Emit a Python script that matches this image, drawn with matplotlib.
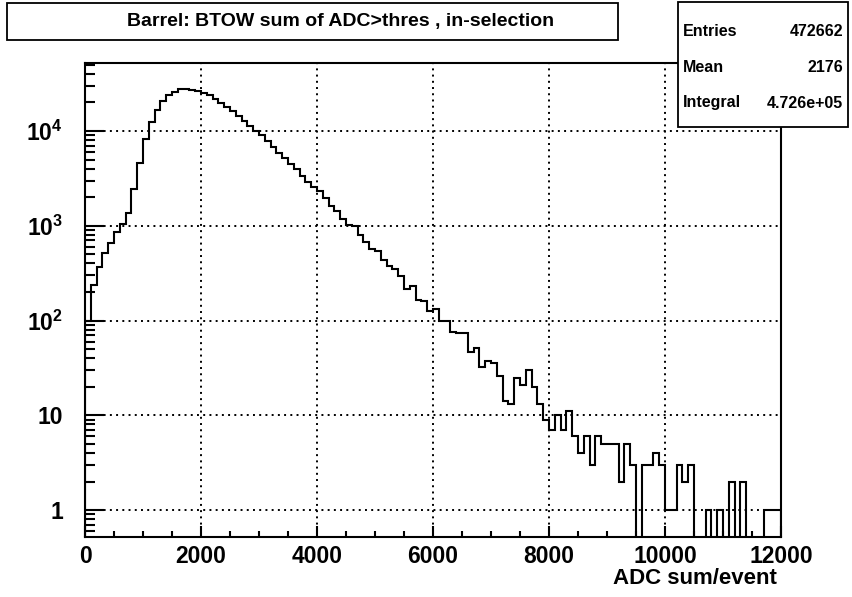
import numpy as np
import matplotlib
matplotlib.use("Agg")
import matplotlib.pyplot as plt
from matplotlib.patches import Rectangle
from matplotlib.ticker import FixedLocator, LogLocator, NullFormatter, MultipleLocator

plt.rcParams['font.family'] = ['Liberation Sans', 'DejaVu Sans']
plt.rcParams['font.weight'] = 'bold'
plt.rcParams['mathtext.fontset'] = 'custom'
plt.rcParams['mathtext.rm'] = 'Liberation Sans:bold'
plt.rcParams['mathtext.bf'] = 'Liberation Sans:bold'
plt.rcParams['mathtext.it'] = 'Liberation Sans:bold'

# ---- data ----
bin_edges = np.arange(0, 12001, 100)
counts = [
    100, 236, 363, 519, 661, 864, 1050, 1360, 2420, 4630,
    8230, 12400, 16700, 20900, 24000, 25800, 27500, 28000, 27300, 26700,
    25400, 23800, 21800, 19900, 18100, 16400, 14400, 12800, 11400, 10000,
    9000, 7850, 6840, 5910, 5150, 4490, 3950, 3360, 2900, 2590,
    2300, 1950, 1620, 1420, 1190, 1015, 985, 791, 668, 568,
    537, 432, 373, 350, 293, 215, 230, 166, 160, 125,
    131, 100, 98, 75, 74, 74, 47, 51, 32, 37,
    36, 26, 14, 13, 25, 21, 30, 20, 13, 9,
    7, 10, 7, 11, 6, 4, 6, 3, 6, 5,
    5, 5, 2, 5, 3, 0, 3, 3, 4, 3,
    1, 1, 3, 2, 3, 0, 0, 1, 0, 1,
    0, 2, 0, 2, 0, 0, 0, 1, 1, 1,
]
x_ticks = [0, 2000, 4000, 6000, 8000, 10000, 12000]
y_ticks = [1, 10, 100, 1000, 10000]
y_tick_labels = ['1', '10', '$10^{2}$', '$10^{3}$', '$10^{4}$']
title = 'Barrel: BTOW sum of ADC>thres , in-selection'
x_label = 'ADC sum/event'
stats_names = ['Entries', 'Mean', 'Integral']
stats_values = ['472662', '2176', '4.726e+05']

W, H = 852, 597
fig = plt.figure(figsize=(W / 100, H / 100), dpi=100)
ax_l, ax_r, ax_t, ax_b = 85, 781, 63.3, 536.7
ax = fig.add_axes([ax_l / W, 1 - ax_b / H, (ax_r - ax_l) / W, (ax_b - ax_t) / H])

ymin, ymax = 0.523, 51800
vals = np.array(counts, dtype=float)
plot_vals = np.where(vals > 0, vals, 1e-3)
ax.stairs(plot_vals, bin_edges, baseline=1e-3, color='black', lw=1.5, zorder=3)

ax.set_yscale('log')
ax.set_xlim(0, 12000)
ax.set_ylim(ymin, ymax)

ax.xaxis.set_major_locator(FixedLocator(x_ticks))
ax.xaxis.set_minor_locator(MultipleLocator(500))
ax.set_xticklabels([str(t) for t in x_ticks])
ax.yaxis.set_major_locator(FixedLocator(y_ticks))
ax.yaxis.set_minor_locator(LogLocator(base=10, subs=np.arange(2, 10)))
ax.yaxis.set_minor_formatter(NullFormatter())
ax.set_yticklabels(y_tick_labels)

ax.tick_params(axis='both', which='both', direction='in', top=False, right=False, width=1.5)
ax.tick_params(axis='x', which='major', length=8, pad=6, labelsize=16.5)
ax.tick_params(axis='x', which='minor', length=4)
ax.tick_params(axis='y', which='major', length=14, pad=16, labelsize=16.5)
ax.tick_params(axis='y', which='minor', length=7)

ax.grid(True, which='major', color='black', linestyle=(0, (1, 2.2)), linewidth=1.4)
for s in ax.spines.values():
    s.set_linewidth(1.5)

fig.text(777 / W, 1 - 578 / H, x_label, ha='right', va='center', fontsize=16, fontweight='bold')

# title box
tb = Rectangle((7 / W, 1 - 40 / H), (618 - 7) / W, 37 / H, transform=fig.transFigure,
               facecolor='white', edgecolor='black', lw=1.3)
fig.patches.append(tb)
fig.text(341 / W, 1 - 21.5 / H, title, ha='center', va='center', fontsize=14, fontweight='bold')

# stats box
sb = Rectangle((678 / W, 1 - 127 / H), (848 - 678) / W, 125 / H, transform=fig.transFigure,
               facecolor='white', edgecolor='black', lw=1.3, zorder=5)
fig.patches.append(sb)
rows_y = [31, 68, 103]
for name, val, yy in zip(stats_names, stats_values, rows_y):
    fig.text(683 / W, 1 - yy / H, name, ha='left', va='center', fontsize=11.5, fontweight='bold', zorder=6)
    fig.text(843 / W, 1 - yy / H, val, ha='right', va='center', fontsize=11.5, fontweight='bold', zorder=6)

fig.savefig('out.png', dpi=100)
